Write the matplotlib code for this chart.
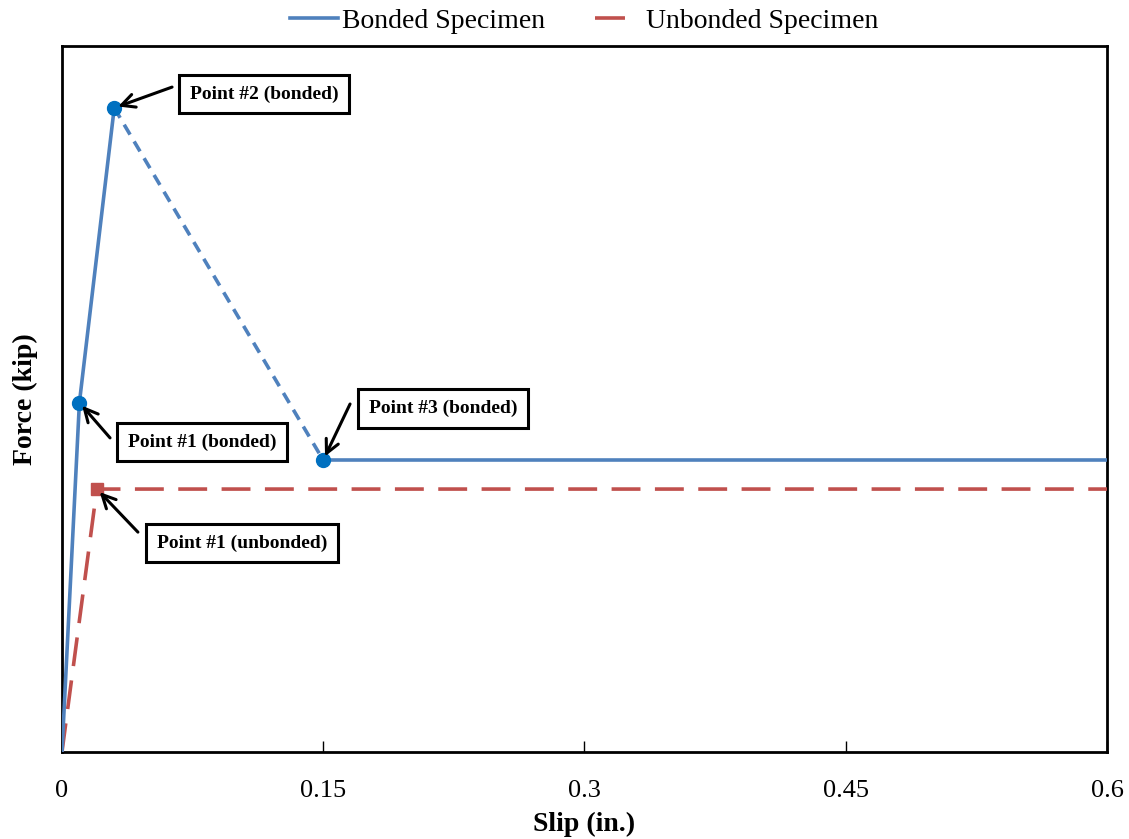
import matplotlib
matplotlib.use("Agg")
import matplotlib.pyplot as plt
from matplotlib.lines import Line2D

# Data (force in arbitrary kip units; y axis has no tick labels)
bonded_x = [0.0, 0.01, 0.03, 0.15, 0.6]
bonded_y = [0.0, 9.9, 18.25, 8.27, 8.27]
unbonded_x = [0.0, 0.02, 0.6]
unbonded_y = [0.0, 7.45, 7.45]
xticks = [0, 0.15, 0.3, 0.45, 0.6]
xtick_labels = ["0", "0.15", "0.3", "0.45", "0.6"]
ann_labels = ["Point #1 (bonded)", "Point #2 (bonded)", "Point #3 (bonded)", "Point #1 (unbonded)"]

plt.rcParams['font.family'] = ['Liberation Serif', 'DejaVu Serif']

blue = '#4F81BD'
mblue = '#0070C0'
red = '#C0504D'

fig = plt.figure(figsize=(11.29, 8.39), dpi=100)
ax = fig.add_axes([0.0549, 0.1037, 0.9256, 0.8413])

# Unbonded
ax.plot(unbonded_x, unbonded_y, color=red, lw=2.6, dashes=(8, 4), zorder=3)
ax.plot([unbonded_x[1]], [unbonded_y[1]], marker='s', ms=8.5, color=red, ls='none', zorder=4)

# Bonded
ax.plot(bonded_x[0:3], bonded_y[0:3], color=blue, lw=2.6, zorder=3, solid_capstyle='round')
ax.plot(bonded_x[2:4], bonded_y[2:4], color=blue, lw=2.6, dashes=(3.2, 2.2), zorder=3)
ax.plot(bonded_x[3:5], bonded_y[3:5], color=blue, lw=2.6, zorder=3)
ax.plot(bonded_x[1:4], bonded_y[1:4], marker='o', ms=10, color=mblue, ls='none', zorder=4)

ax.set_xlim(0, 0.6)
ax.set_ylim(0, 20)
ax.set_xticks(xticks)
ax.set_xticklabels(xtick_labels, fontsize=19)
ax.set_yticks([])
ax.tick_params(axis='x', direction='in', length=8, width=1, pad=20)
for s in ax.spines.values():
    s.set_linewidth(2)
ax.set_xlabel('Slip (in.)', fontsize=20, fontweight='bold', labelpad=7)
ax.set_ylabel('Force (kip)', fontsize=20, fontweight='bold', labelpad=17)

bbox = dict(boxstyle='square,pad=0.55', fc='white', ec='black', lw=2.2)
arrow = dict(arrowstyle='->', lw=2.2, color='black', mutation_scale=24, shrinkA=0, shrinkB=3)

ann_pts = [(bonded_x[1], bonded_y[1]), (bonded_x[2], bonded_y[2]),
           (bonded_x[3], bonded_y[3]), (unbonded_x[1], unbonded_y[1])]
ann_text = [(0.0804, 8.78), (0.116, 18.64), (0.2187, 9.74), (0.1033, 5.92)]
arrow_start = [(0.0276, 8.90), (0.0632, 18.84), (0.1654, 9.86), (0.0436, 6.23)]
for lab, p, t, a in zip(ann_labels, ann_pts, ann_text, arrow_start):
    ax.annotate('', xy=p, xytext=a, arrowprops=arrow, zorder=5)
    ax.text(t[0], t[1], lab, fontsize=14, fontweight='bold',
            ha='center', va='center', bbox=bbox, zorder=6)

handles = [Line2D([], [], color=blue, lw=2.6),
           Line2D([], [], color=red, lw=2.6, dashes=(8.3, 6))]
labels = ['Bonded Specimen', 'Unbonded Specimen']
leg = ax.legend(handles, labels, loc='lower center',
                bbox_to_anchor=(0.5, 1.0), ncol=2, frameon=False, fontsize=20,
                handlelength=1.7, handletextpad=0.15, columnspacing=1.8, borderaxespad=0.05)

fig.savefig('out.png', dpi=100)
